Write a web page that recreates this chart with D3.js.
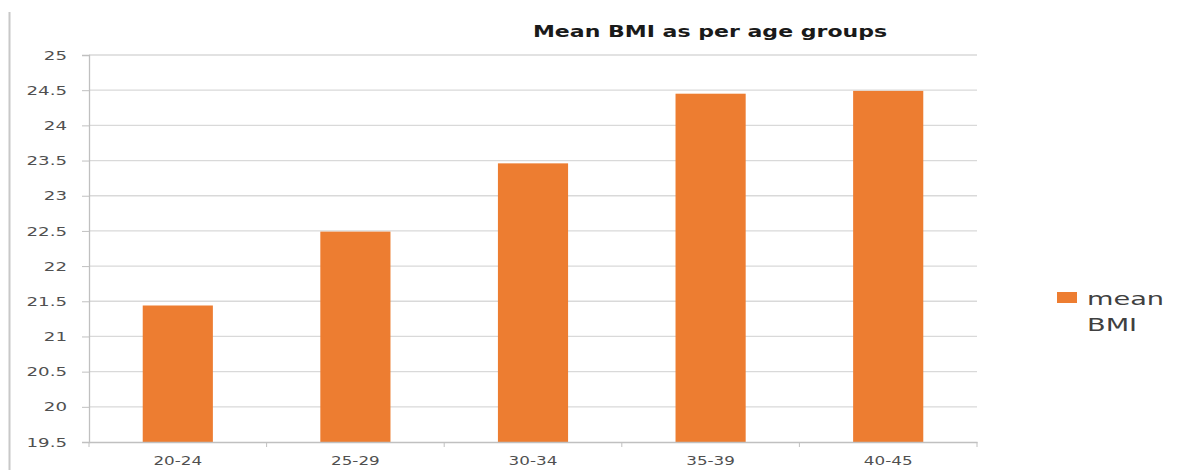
<!DOCTYPE html>
<html>
<head>
<meta charset="utf-8">
<script src="https://cdnjs.cloudflare.com/ajax/libs/d3/7.8.5/d3.min.js"></script>
<style>
  body { margin: 0; background: #fff; }
  svg { display: block; }
</style>
</head>
<body>
<svg id="chart" width="1184" height="470"></svg>
<script>
const ageGroups = ["20-24", "25-29", "30-34", "35-39", "40-45"];
const meanBmi = [21.44, 22.49, 23.46, 24.45, 24.49];
const yTicks = [19.5, 20, 20.5, 21, 21.5, 22, 22.5, 23, 23.5, 24, 24.5, 25];
const seriesName = ["mean", "BMI"];
const chartTitle = "Mean BMI as per age groups";

const svg = d3.select("#chart"),
      margin = {left: 89, right: 207, top: 55, bottom: 28},
      W = 1184, H = 470,
      iw = W - margin.left - margin.right,
      ih = H - margin.top - margin.bottom;

const fontFam = "'DejaVu Sans', Verdana, sans-serif",
      stretch = 1.4; // the source picture is widened, so text is too

// widen text horizontally, keeping its anchor where it was
const widen = function(sel, k) {
  sel.each(function() {
    let t = d3.select(this),
        tx = +t.attr("x") || 0;
    t.attr("x", tx / k).attr("transform", `scale(${k},1)`);
  });
};

// frame edge on the left
svg.append("line")
  .attr("x1", 9.5).attr("x2", 9.5)
  .attr("y1", 12).attr("y2", H)
  .attr("stroke", "#c8c8c8").attr("stroke-width", 2);

const x = d3.scaleBand().domain(ageGroups).range([0, iw]).padding(0);
const y = d3.scaleLinear().domain([19.5, 25]).range([ih, 0]);

const g = svg.append("g").attr("transform", `translate(${margin.left},${margin.top})`);

// gridlines
g.append("g")
  .selectAll("line")
  .data(yTicks.filter(t => t > 19.5))
  .join("line")
  .attr("x1", 0).attr("x2", iw)
  .attr("y1", d => y(d)).attr("y2", d => y(d))
  .attr("stroke", "#d9d9d9").attr("stroke-width", 1.3);

// y axis
const yAxis = g.append("g")
  .call(d3.axisLeft(y).tickValues(yTicks).tickFormat(d3.format("~g")).tickSize(7).tickPadding(15));
yAxis.select(".domain").attr("stroke", "#c0c0c0").attr("stroke-width", 1.3);
yAxis.selectAll(".tick line").attr("stroke", "#c0c0c0");
yAxis.selectAll("text")
  .attr("fill", "#505050")
  .style("font-family", fontFam)
  .style("font-size", "13px")
  .call(widen, stretch);

// bars
const barW = x.bandwidth() * 0.395;
g.append("g")
  .selectAll("rect")
  .data(ageGroups.map((a, i) => ({a, v: meanBmi[i]})))
  .join("rect")
  .attr("x", d => x(d.a) + x.bandwidth()/2 - barW/2)
  .attr("width", barW)
  .attr("y", d => y(d.v))
  .attr("height", d => y(19.5) - y(d.v))
  .attr("fill", "#ED7D31");

// x axis
const xAxis = g.append("g")
  .attr("transform", `translate(0,${ih})`)
  .call(d3.axisBottom(x).tickSize(0).tickPadding(14));
xAxis.select(".domain").attr("stroke", "#c0c0c0").attr("stroke-width", 1.3);
xAxis.selectAll("text")
  .attr("fill", "#505050")
  .style("font-family", fontFam)
  .style("font-size", "12px")
  .call(widen, stretch);

// boundary ticks on the x axis
g.append("g")
  .selectAll("line")
  .data(d3.range(ageGroups.length + 1))
  .join("line")
  .attr("x1", i => i * x.step()).attr("x2", i => i * x.step())
  .attr("y1", ih).attr("y2", ih + 5)
  .attr("stroke", "#c0c0c0");

// title
svg.append("text")
  .attr("x", 710).attr("y", 37)
  .attr("text-anchor", "middle")
  .attr("fill", "#1a1a1a")
  .style("font-family", fontFam)
  .style("font-weight", "bold")
  .style("font-size", "15px")
  .text(chartTitle)
  .call(widen, 1.47);

// legend
const lg = svg.append("g").attr("transform", "translate(1057,292)");
lg.append("rect").attr("width", 20).attr("height", 11).attr("fill", "#ED7D31");
lg.selectAll("text")
  .data(seriesName)
  .join("text")
  .attr("x", 30)
  .attr("y", (d, i) => 13 + i * 26)
  .attr("fill", "#404040")
  .style("font-family", fontFam)
  .style("font-size", "17px")
  .text(d => d)
  .call(widen, 1.6);
</script>
</body>
</html>
